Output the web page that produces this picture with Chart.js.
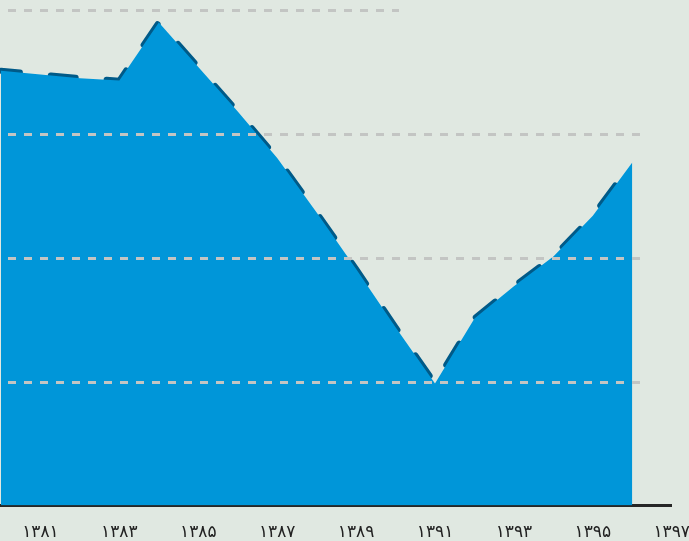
<!DOCTYPE html>
<html>
<head>
<meta charset="utf-8">
<script src="https://cdn.jsdelivr.net/npm/chart.js@4"></script>
<style>
  html, body { margin: 0; padding: 0; background: #e0e8e1; overflow: hidden; }
  #wrap { width: 689px; height: 541px; overflow: hidden; position: relative; }
  #chart { position: absolute; left: -16px; top: 0; }
</style>
</head>
<body>
<div id="wrap"><canvas id="chart" width="723" height="560"></canvas></div>
<script>
// years on the x axis (last one has no value)
const years = ['1380', '1381', '1382', '1383', '1384', '1385', '1386', '1387', '1388',
  '1389', '1390', '1391', '1392', '1393', '1394', '1395', '1396', '1397'];
// values
const values = [35.1, 34.8, 34.5, 34.3, 39.0, 35.4, 31.8, 28.05, 23.65,
  19.1, 14.4, 9.86, 15.1, 17.7, 20.1, 23.4, 27.7, null];
// horizontal dashed guides
const gridValues = [10, 20, 30, 40];

const persianDigits = ['۰', '۱', '۲', '۳', '۴', '۵', '۶', '۷', '۸', '۹'];
function toPersian(s) {
  return String(s).replace(/[0-9]/g, d => persianDigits[+d]);
}

// guides are drawn over the fill but under the dashed line
const guidePlugin = {
  id: 'guides',
  afterDatasetDraw(chart, args) {
    if (args.index !== 0) return;
    const ctx = chart.ctx;
    const y = chart.scales.y;
    const area = chart.chartArea;
    ctx.save();
    ctx.strokeStyle = '#c3c5c3';
    ctx.lineWidth = 3;
    ctx.setLineDash([8, 8]);
    gridValues.forEach(v => {
      const py = Math.round(y.getPixelForValue(v)) + 0.5;
      const end = v === 40 ? area.left + 398 : area.left + 641;
      ctx.beginPath();
      ctx.moveTo(area.left + 7, py);
      ctx.lineTo(end, py);
      ctx.stroke();
    });
    ctx.restore();
  }
};

new Chart(document.getElementById('chart'), {
  type: 'line',
  data: {
    labels: years,
    datasets: [{
      data: values,
      fill: 'origin',
      backgroundColor: '#0096d9',
      borderWidth: 0,
      pointRadius: 0,
      tension: 0
    }, {
      data: values,
      fill: false,
      borderColor: '#005a88',
      borderWidth: 6,
      borderDash: [25, 31],
      borderDashOffset: 6,
      borderCapStyle: 'round',
      borderJoinStyle: 'round',
      pointRadius: 0,
      tension: 0
    }]
  },
  options: {
    responsive: false,
    animation: false,
    devicePixelRatio: 1,
    layout: { padding: { top: 10, left: 0, right: 0, bottom: 0 } },
    plugins: { legend: { display: false }, tooltip: { enabled: false } },
    scales: {
      x: {
        offset: false,
        grid: { display: false, drawTicks: false },
        border: { display: true, color: '#262626', width: 3 },
        ticks: {
          autoSkip: false,
          maxRotation: 0,
          padding: 17,
          color: '#222',
          font: { family: 'DejaVu Sans', size: 17 },
          callback: function (val, i) {
            const yr = years[i];
            return (+yr) % 2 === 1 ? toPersian(yr) : '';
          }
        }
      },
      y: {
        display: false,
        min: 0,
        max: 40
      }
    }
  },
  plugins: [guidePlugin]
});
</script>
</body>
</html>
